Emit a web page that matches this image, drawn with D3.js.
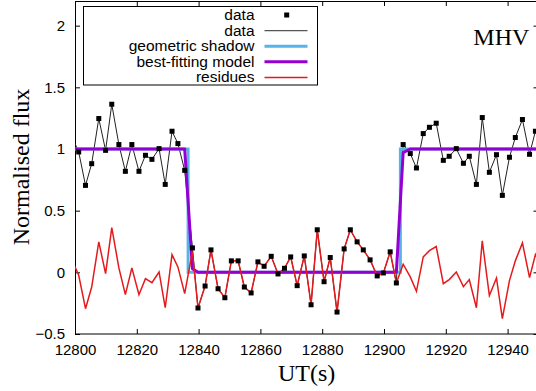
<!DOCTYPE html>
<html>
<head>
<meta charset="utf-8">
<script src="https://cdn.jsdelivr.net/npm/d3@7"></script>
<style>
  body { margin: 0; background: #fff; }
  svg { display: block; overflow: hidden; }
</style>
</head>
<body>
<script>
// light curve (UT seconds / normalised flux)
const times = [
  12799.1, 12801.2, 12803.4, 12805.4, 12807.7, 12809.9, 12811.9, 12814.2, 12816.3, 12818.4,
  12820.7, 12822.8, 12824.9, 12827.2, 12829.2, 12831.4, 12833.3, 12835.5,
  12838.0, 12839.8, 12842.1, 12844.0, 12846.3, 12848.5, 12850.6, 12852.8, 12854.8, 12857.0,
  12859.2, 12861.2, 12863.5, 12865.7, 12867.8, 12869.8, 12871.9, 12874.2, 12876.4, 12878.4,
  12880.6, 12882.6, 12884.8, 12887.1, 12889.1, 12891.3, 12893.3, 12895.5, 12897.8, 12899.8,
  12902.0, 12904.0,
  12906.2, 12908.5, 12910.5, 12912.7, 12914.7, 12916.9, 12919.2, 12921.1, 12923.4, 12925.7,
  12927.6, 12929.9, 12931.8, 12934.1, 12936.4, 12938.3, 12940.6, 12942.5, 12944.8, 12947.1,
  12949.0, 12951.2
];

const flux = [
  1.095, 0.976, 0.705, 0.881, 1.247, 0.989, 1.363, 1.036, 0.819, 1.036,
  0.819, 0.949, 0.916, 1.003, 0.713, 1.144, 1.044, 0.827,
  0.198, -0.289, -0.111, 0.182, -0.133, -0.206, 0.093, 0.093, -0.119, -0.167,
  0.085, 0.049, 0.130, -0.013, 0.033, 0.125, -0.108, 0.133, -0.263, 0.345,
  -0.076, 0.120, -0.322, 0.190, 0.345, 0.247, 0.182, 0.101, -0.029, -0.005,
  0.166, -0.086,
  1.036, 0.963, 0.846, 1.125, 1.176, 1.209, 0.908, 0.941, 1.003, 0.884,
  0.941, 0.713, 1.255, 0.811, 0.954, 0.624, 0.933, 1.093, 1.239, 0.957,
  1.144, 1.05
];

const model = [
  1, 1, 1, 1, 1, 1, 1, 1, 1, 1,
  1, 1, 1, 1, 1, 1, 1, 1,
  0.03, 0, 0, 0, 0, 0, 0, 0, 0, 0,
  0, 0, 0, 0, 0, 0, 0, 0, 0, 0,
  0, 0, 0, 0, 0, 0, 0, 0, 0, 0,
  0, 0,
  0.97, 1, 1, 1, 1, 1, 1, 1, 1, 1,
  1, 1, 1, 1, 1, 1, 1, 1, 1, 1,
  1, 1
];

const residues = [
  0.095, -0.024, -0.295, -0.119, 0.247, -0.011, 0.363, 0.036, -0.181, 0.036,
  -0.181, -0.051, -0.084, 0.003, -0.287, 0.144, 0.044, -0.173,
  0.168, -0.289, -0.111, 0.182, -0.133, -0.206, 0.093, 0.093, -0.119, -0.167,
  0.085, 0.049, 0.130, -0.013, 0.033, 0.125, -0.108, 0.133, -0.263, 0.345,
  -0.076, 0.120, -0.322, 0.190, 0.345, 0.247, 0.182, 0.101, -0.029, -0.005,
  0.166, -0.086,
  0.066, -0.037, -0.154, 0.125, 0.176, 0.209, -0.092, -0.059, 0.003, -0.116,
  -0.059, -0.287, 0.255, -0.189, -0.046, -0.376, -0.067, 0.093, 0.239, -0.043,
  0.144, 0.05
];

const shadowTimes = [12799, 12836.6, 12836.6, 12905.3, 12905.3, 12952];
const shadowValues = [1, 1, 0, 0, 1, 1];

const xTicks = [12800, 12820, 12840, 12860, 12880, 12900, 12920, 12940];
const yTicks = [-0.5, 0, 0.5, 1, 1.5, 2];
const legendLabels = ['data', 'data', 'geometric shadow', 'best-fitting model', 'residues'];

const COLOR_SHADOW = '#56b4e9';
const COLOR_MODEL = '#9400d3';
const COLOR_RESID = '#e41a1c';
const SANS = "'Liberation Sans', Arial, sans-serif";
const SERIF = "'Liberation Serif', 'Times New Roman', serif";

let width = 536;
let height = 391;

let svg = d3.select('body').append('svg')
  .attr('width', width)
  .attr('height', height);

let x = d3.scaleLinear().domain([12800, 12950]).range([75, 538.5]);
let y = d3.scaleLinear().domain([-0.5, 2.2]).range([334, 1]);

let points = times.map((t, i) => ({t: t, flux: flux[i], model: model[i], res: residues[i]}));
let shadow = shadowTimes.map((t, i) => ({t: t, v: shadowValues[i]}));

svg.append('defs').append('clipPath')
  .attr('id', 'plot-clip')
  .append('rect')
  .attr('x', 75)
  .attr('y', 1)
  .attr('width', 463.5)
  .attr('height', 333);

// axes, ticks pointing inward on all four sides
function style_axis(g)
{
  g.select('.domain').remove();
  g.selectAll('line').attr('stroke', '#000');
  g.selectAll('text')
    .attr('fill', '#000')
    .style('font-family', SANS)
    .style('font-size', '15px');
}

svg.append('g')
  .attr('transform', 'translate(0,334)')
  .call(d3.axisBottom(x).tickValues(xTicks).tickSize(-5).tickPadding(10.5).tickFormat(d3.format('d')))
  .call(style_axis);

svg.append('g')
  .attr('transform', 'translate(0,1)')
  .call(d3.axisTop(x).tickValues(xTicks).tickSize(-5).tickFormat(''))
  .call(style_axis);

svg.append('g')
  .attr('transform', 'translate(75,0)')
  .call(d3.axisLeft(y).tickValues(yTicks).tickSize(-5).tickPadding(10).tickFormat(d3.format('')))
  .call(style_axis);

svg.append('g')
  .attr('transform', 'translate(538.5,0)')
  .call(d3.axisRight(y).tickValues(yTicks).tickSize(-5).tickFormat(''))
  .call(style_axis);

svg.append('rect')
  .attr('x', 75.5)
  .attr('y', 1.5)
  .attr('width', 463)
  .attr('height', 332.5)
  .attr('fill', 'none')
  .attr('stroke', '#000')
  .attr('stroke-width', 1);

let plot = svg.append('g')
  .attr('clip-path', 'url(#plot-clip)');

let line = (key) => d3.line()
  .x(d => x(d.t))
  .y(d => y(d[key]));

plot.append('path')
  .datum(points)
  .attr('d', line('flux'))
  .attr('fill', 'none')
  .attr('stroke', '#222')
  .attr('stroke-width', 1);

plot.append('path')
  .datum(shadow)
  .attr('d', line('v'))
  .attr('fill', 'none')
  .attr('stroke', COLOR_SHADOW)
  .attr('stroke-width', 3);

plot.append('path')
  .datum(points)
  .attr('d', line('model'))
  .attr('fill', 'none')
  .attr('stroke', COLOR_MODEL)
  .attr('stroke-width', 3)
  .attr('stroke-linejoin', 'round');

plot.append('path')
  .datum(points)
  .attr('d', line('res'))
  .attr('fill', 'none')
  .attr('stroke', COLOR_RESID)
  .attr('stroke-width', 1.5);

plot.append('g')
  .selectAll('rect')
  .data(points)
  .enter()
  .append('rect')
  .attr('x', d => x(d.t) - 2.5)
  .attr('y', d => y(d.flux) - 2.5)
  .attr('width', 5)
  .attr('height', 5)
  .attr('fill', '#000');

// legend
let legend = svg.append('g');

legend.append('rect')
  .attr('x', 83.5)
  .attr('y', 6.5)
  .attr('width', 234)
  .attr('height', 78.5)
  .attr('fill', '#fff')
  .attr('stroke', '#000');

let legendRows = legend.selectAll('g.row')
  .data(legendLabels)
  .enter()
  .append('g')
  .attr('class', 'row')
  .attr('transform', (d, i) => `translate(0, ${15 + i * 15.6})`);

legendRows.append('text')
  .attr('x', 254.5)
  .attr('y', 5)
  .attr('text-anchor', 'end')
  .style('font-family', SANS)
  .style('font-size', '15.5px')
  .text(d => d);

const legendStyles = [
  null,
  {stroke: '#555', width: 1.2},
  {stroke: COLOR_SHADOW, width: 3},
  {stroke: COLOR_MODEL, width: 3},
  {stroke: COLOR_RESID, width: 1.5}
];

legendRows.each(function (d, i) {
  let row = d3.select(this);
  if (i === 0) {
    row.append('rect')
      .attr('x', 284.2)
      .attr('y', -2.5)
      .attr('width', 5)
      .attr('height', 5)
      .attr('fill', '#000');
  } else {
    row.append('line')
      .attr('x1', 264.5)
      .attr('x2', 307.5)
      .attr('y1', 0)
      .attr('y2', 0)
      .attr('stroke', legendStyles[i].stroke)
      .attr('stroke-width', legendStyles[i].width);
  }
});

// titles
svg.append('text')
  .attr('transform', 'translate(28.5,167) rotate(-90)')
  .attr('text-anchor', 'middle')
  .style('font-family', SERIF)
  .style('font-size', '24px')
  .text('Normalised flux');

svg.append('text')
  .attr('x', 306.7)
  .attr('y', 380.5)
  .attr('text-anchor', 'middle')
  .style('font-family', SERIF)
  .style('font-size', '24px')
  .text('UT(s)');

svg.append('text')
  .attr('x', 473.3)
  .attr('y', 45)
  .style('font-family', SERIF)
  .style('font-size', '24px')
  .text('MHV');
</script>
</body>
</html>
